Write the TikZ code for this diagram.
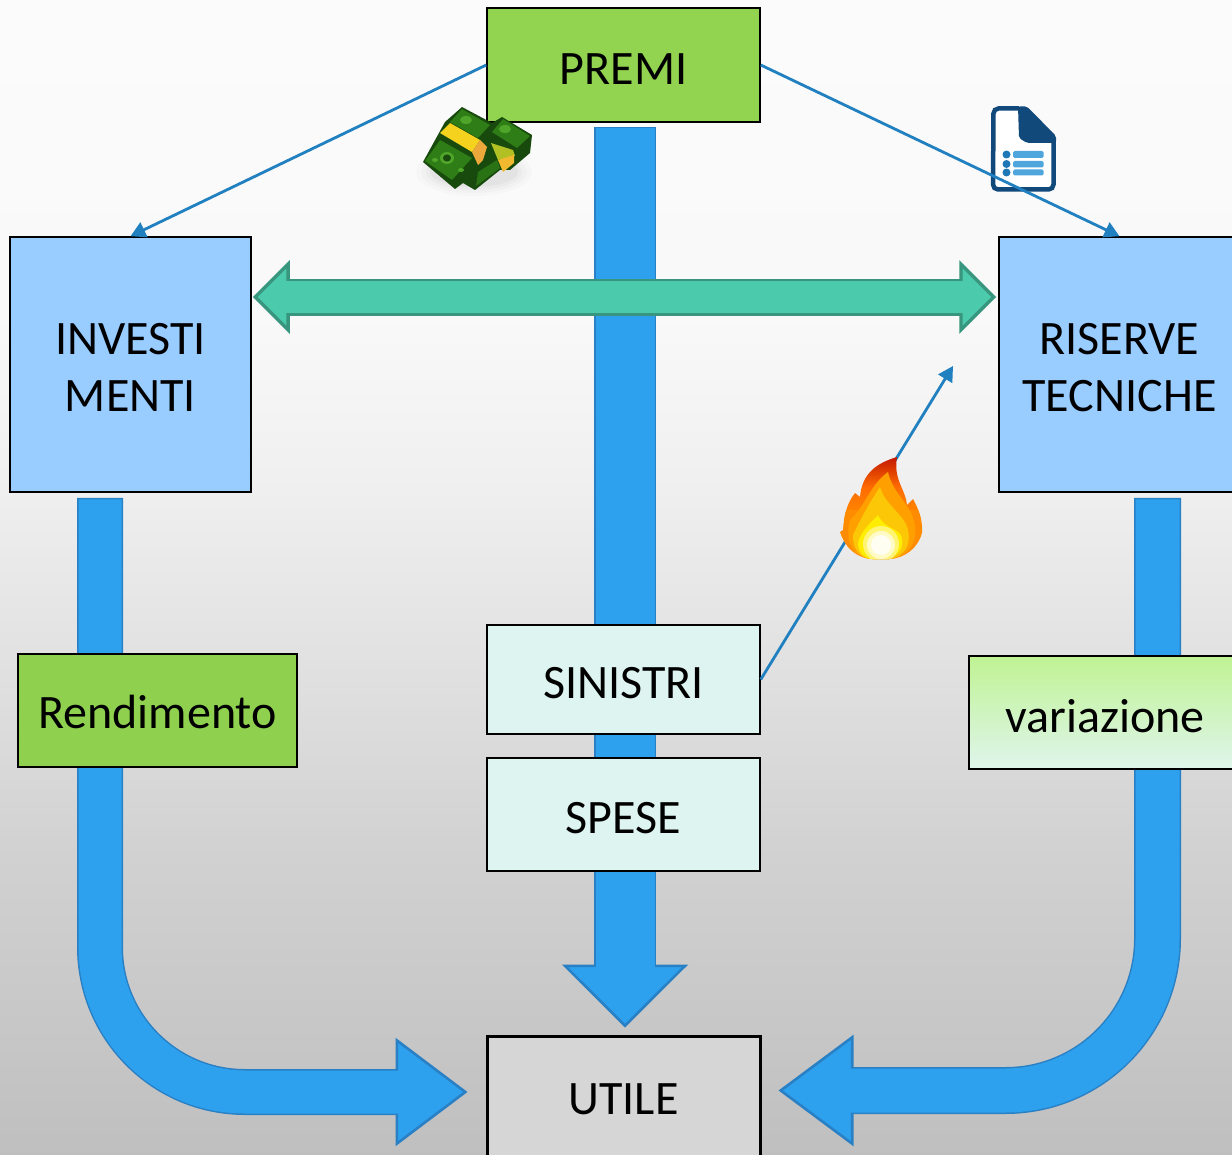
\documentclass[tikz,border=0pt]{standalone}
\usepackage{fontspec}
\setmainfont{Carlito}
\usetikzlibrary{arrows.meta,calc}
\pgfdeclarelayer{bglayer}
\pgfdeclarelayer{arrowlayer}
\pgfsetlayers{bglayer,arrowlayer,main}
\definecolor{flowfill}{HTML}{2EA1EE}
\definecolor{flowline}{HTML}{2A80C4}
\definecolor{swapfill}{HTML}{4BCBAC}
\definecolor{swapline}{HTML}{38967E}
\definecolor{thinblue}{HTML}{2080C0}
\definecolor{docblue}{HTML}{12497B}
\definecolor{barblue}{HTML}{4FA6DC}
\definecolor{varlow}{HTML}{DFF5EC}
\definecolor{varhigh}{HTML}{BFF393}
\definecolor{billdark}{HTML}{174A0C}
\definecolor{billmid}{HTML}{2F7D16}
\definecolor{billlight}{HTML}{4FA52A}
\definecolor{bandyellow}{HTML}{F5D21E}
\definecolor{bandorange}{HTML}{EDA83C}
\pgfdeclareverticalshading{pagebg}{100bp}{
  color(0bp)=(black!25);
  color(25bp)=(black!25);
  color(38bp)=(black!18);
  color(47.3bp)=(black!11);
  color(54.2bp)=(black!6);
  color(61bp)=(black!2.5);
  color(75bp)=(black!1.5);
  color(100bp)=(black!1.5)}
\pgfdeclareverticalshading{varshade}{100bp}{
  color(0bp)=(varlow);
  color(25bp)=(varlow);
  color(75bp)=(varhigh);
  color(100bp)=(varhigh)}
\def\u{.03cm}
\newcommand{\lowline}[1]{\raisebox{-.555cm}[0pt][0pt]{#1}}
\tikzset{
  x=.03cm,y=-.03cm,
  box/.style={draw=black,line width=1.5*\u,align=center,inner sep=0pt,
    font=\fontsize{41}{48.5}\selectfont},
  lifted/.style={execute at begin node={\rule{0pt}{#1}}},
  lifted/.default=1.2cm,
  thinline/.style={draw=thinblue,line width=2.8*\u,
    -{Triangle[length=15*\u,width=16*\u,color=thinblue,fill=thinblue]}},
}
\begin{document}
\begin{tikzpicture}[line join=miter]
\useasboundingbox (0,0) rectangle (1232,1155);
\begin{pgfonlayer}{bglayer}
\shade[shading=pagebg] (0,0) rectangle (1232,1155);
\end{pgfonlayer}

\node[box,lifted,fill={rgb,255:red,146;green,211;blue,79},minimum width=273*\u,minimum height=114*\u] (premi) at (623.5,65) {PREMI};
\node[box,fill={rgb,255:red,153;green,204;blue,255},minimum width=241*\u,minimum height=255*\u] (investi) at (130.5,364.5) {\lowline{INVESTI}\\\lowline{MENTI}};
\node[box,fill={rgb,255:red,153;green,204;blue,255},minimum width=241*\u,minimum height=255*\u] (riserve) at (1119.5,364.5) {\lowline{RISERVE}\\\lowline{TECNICHE}};
\node[box,lifted=1.08cm,fill={rgb,255:red,143;green,209;blue,79},minimum width=279*\u,minimum height=113*\u] (rend) at (157.5,710.5) {Rendimento};
\node[box,lifted,minimum width=272*\u,minimum height=113*\u,shading=varshade] (varia) at (1105,712.5) {variazione};
\node[box,lifted=1.15cm,fill={rgb,255:red,221;green,244;blue,240},minimum width=273*\u,minimum height=109*\u] (sin) at (623.5,679.5) {SINISTRI};
\node[box,lifted=1.15cm,fill={rgb,255:red,221;green,244;blue,240},minimum width=273*\u,minimum height=113*\u] (spese) at (623.5,814.5) {SPESE};
\node[box,line width=3*\u,fill={rgb,255:red,214;green,214;blue,214},minimum width=273*\u,minimum height=126*\u] (utile) at (623.5,1099) {UTILE};

\begin{pgfonlayer}{arrowlayer}
% centre flow
\draw[flowline,line width=62*\u,shorten <=4*\u,shorten >=7*\u,
      -{Triangle[length=63*\u,width=126*\u,line width=2.6*\u,color=flowline,fill=flowfill]}]
  ([xshift=1.5*\u]premi.south) -- ([xshift=1.5*\u]utile.north);
\draw[flowfill,line width=59*\u,shorten <=5.5*\u,shorten >=58*\u]
  ([xshift=1.5*\u]premi.south) -- ([xshift=1.5*\u]utile.north);
% left flow
\draw[flowline,line width=46*\u,rounded corners=145*\u,shorten <=5*\u,shorten >=18*\u,
      -{Triangle[length=72*\u,width=108*\u,line width=2.6*\u,color=flowline,fill=flowfill]}]
  ([xshift=-30.5*\u]investi.south) |- ([yshift=7*\u]utile.west);
\draw[flowfill,line width=43*\u,rounded corners=145*\u,shorten <=6.5*\u,shorten >=68*\u]
  ([xshift=-30.5*\u]investi.south) |- ([yshift=7*\u]utile.west);
% right flow
\draw[flowline,line width=47*\u,rounded corners=152*\u,shorten <=5*\u,shorten >=17*\u,
      -{Triangle[length=75*\u,width=111*\u,line width=2.6*\u,color=flowline,fill=flowfill]}]
  ([xshift=38*\u]riserve.south) |- ([yshift=8.5*\u]utile.east);
\draw[flowfill,line width=44*\u,rounded corners=152*\u,shorten <=6.5*\u,shorten >=72*\u]
  ([xshift=38*\u]riserve.south) |- ([yshift=8.5*\u]utile.east);
% double arrow
\draw[swapline,line width=37*\u,shorten <=1*\u,shorten >=2*\u,
      {Triangle[length=37*\u,width=73*\u,line width=3.4*\u,color=swapline,fill=swapfill]}-{Triangle[length=37*\u,width=73*\u,line width=3.4*\u,color=swapline,fill=swapfill]}]
  ([yshift=67.5*\u]investi.east) -- ([yshift=67.5*\u]riserve.west);
\draw[swapfill,line width=32*\u,shorten <=34*\u,shorten >=34*\u]
  ([yshift=67.5*\u]investi.east) -- ([yshift=67.5*\u]riserve.west);
\end{pgfonlayer}

% document icon
\fill[white] (993,108) -- (1020,108) -- (1054,140) -- (1054,190) -- (993,190) -- cycle;
\draw[docblue,line width=4.5*\u,rounded corners=5*\u] (1019,108.5) -- (993.5,108.5) -- (993,189.5) -- (1053.5,189.5) -- (1053.5,140);
\fill[docblue,rounded corners=2*\u] (1018,106.5) -- (1027,106.5) -- (1056,136) -- (1056,143) -- (1027,143) -- (1019,138) -- cycle;
\fill[barblue,rounded corners=1.5*\u] (1013,151) rectangle (1043.5,158);
\fill[barblue,rounded corners=1.5*\u] (1013,161) rectangle (1043.5,167.5);
\fill[barblue,rounded corners=1.5*\u] (1013,169.5) rectangle (1043.5,175.5);
\fill[thinblue!85!docblue] (1006.5,154.5) circle (4*\u);
\fill[thinblue!85!docblue] (1006.5,164) circle (4*\u);
\fill[thinblue!85!docblue] (1006.5,172.5) circle (4*\u);

% thin connectors
\coordinate (flametarget) at (953,366);
\draw[thinline] (premi.west) -- (investi.north);
\draw[thinline] (premi.east) -- (riserve.north);
\draw[thinline] (sin.east) -- (flametarget);

% flame
\begin{scope}
\clip (897,457) .. controls (877,463) and (862,473) .. (860,497)
  -- (855,493) .. controls (847,503) and (844,515) .. (843,530)
  -- (840,532) .. controls (846,550) and (858,558) .. (872,559)
  -- (890,559) .. controls (905,558) and (918,548) .. (922,533)
  .. controls (923,520) and (918,508) .. (913,499) -- (907,505)
  .. controls (906,490) and (893,480) .. (897,457) -- cycle;
\shade[top color=red!70!black!85!orange,bottom color=orange!90!yellow,middle color=orange!85!red] (835,455) rectangle (925,520);
\fill[orange!90!yellow] (835,510) rectangle (925,560);
\fill[orange!75!yellow] (888,472) .. controls (870,485) and (866,505) .. (850,520)
   .. controls (845,540) and (850,560) .. (880,560) .. controls (915,560) and (920,535) .. (912,515)
   .. controls (905,500) and (892,490) .. (888,472) -- cycle;
\fill[yellow!60!orange] (880,487) .. controls (868,505) and (860,520) .. (853,535)
   .. controls (853,555) and (865,560) .. (880,560) .. controls (900,560) and (912,550) .. (908,530)
   .. controls (905,515) and (885,505) .. (880,487) -- cycle;
\fill[yellow!95!orange] (878,515) .. controls (868,525) and (858,535) .. (858,545)
   .. controls (860,558) and (870,560) .. (880,560) .. controls (892,560) and (905,552) .. (902,538)
   .. controls (900,528) and (885,530) .. (878,515) -- cycle;
\fill[white,opacity=.45] (881,544) circle (18*\u);
\fill[white,opacity=.6] (881,545) circle (14*\u);
\fill[white,opacity=.8] (881,545) circle (10*\u);
\end{scope}

% money
\fill[black,opacity=.015] (474,172) ellipse (58 and 24);
\fill[black,opacity=.02] (474,172) ellipse (53 and 21);
\fill[black,opacity=.025] (474,172) ellipse (48 and 18);
\fill[black,opacity=.03] (474,172) ellipse (44 and 15);
\fill[billdark] (462,107) -- (492,123) -- (502,117) -- (532,135) -- (530,153) -- (510,170) -- (500,170) -- (475,190) -- (463,183) -- (455,189) -- (423,162) -- (445,122) -- cycle;
\fill[billmid] (462,109) -- (490,125) -- (478,138) -- (450,122) -- cycle;
\fill[billmid] (503,119) -- (530,136) -- (517,148) -- (492,132) -- cycle;
\fill[billmid] (440,140) -- (472,158) -- (452,180) -- (425,161) -- cycle;
\fill[billmid!80!billdark] (478,172) -- (497,160) -- (500,168) -- (476,186) -- cycle;
\fill[billlight] (447,158) ellipse (7 and 6);
\fill[billdark] (447,158) ellipse (4 and 3.5);
\fill[billlight] (505,129) ellipse (6 and 4);
\fill[billlight] (466,120) ellipse (6 and 4);
\fill[billlight] (435,160) ellipse (3 and 2);
\fill[billlight] (461,170) ellipse (3 and 2);
\fill[bandyellow] (440,133) -- (450,123) -- (480,140) -- (472,152) -- cycle;
\fill[bandorange] (472,152) -- (480,140) -- (487,147) -- (483,160) -- (478,165) -- cycle;
\fill[bandyellow!60!billlight] (491,143) -- (513,150) -- (515,156) -- (498,160) -- cycle;
\fill[bandorange!80!yellow] (498,160) -- (514,155) -- (514,163) -- (503,172) -- cycle;
\end{tikzpicture}
\end{document}
